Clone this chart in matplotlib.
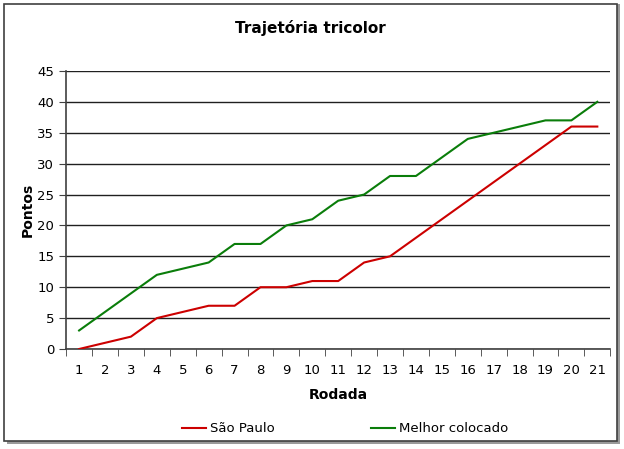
import matplotlib
matplotlib.use("Agg")
import matplotlib.pyplot as plt
from matplotlib.patches import Rectangle

rodadas = list(range(1, 22))
sao_paulo = [0, 1, 2, 5, 6, 7, 7, 10, 10, 11, 11, 14, 15, 18, 21, 24, 27, 30, 33, 36, 36]
melhor = [3, 6, 9, 12, 13, 14, 17, 17, 20, 21, 24, 25, 28, 28, 31, 34, 35, 36, 37, 37, 40]

_RED = "#cc0000"
_GREEN = "#0a7d0a"

plt.rcParams["font.family"] = "DejaVu Sans"

fig = plt.figure(figsize=(6.24, 4.49), dpi=100)
ax = fig.add_axes([0.106, 0.2227, 0.872, 0.6193])
ax.set_zorder(5)
ax.patch.set_alpha(0)

# chart frame with shadow
fig.patches.append(Rectangle((0.011, 0.012), 0.983, 0.98, transform=fig.transFigure,
                             facecolor="#9a9a9a", edgecolor="none", zorder=-2))
fig.patches.append(Rectangle((0.006, 0.018), 0.983, 0.974, transform=fig.transFigure,
                             facecolor="white", edgecolor="#404040", linewidth=1.2, zorder=-1))

ax.plot(rodadas, sao_paulo, color=_RED, linewidth=1.5, label="São Paulo", zorder=3)
ax.plot(rodadas, melhor, color=_GREEN, linewidth=1.5, label="Melhor colocado", zorder=3)

ax.set_xlim(0.5, 21.5)
ax.set_ylim(0, 45)
ax.set_yticks(range(0, 46, 5))
ax.set_xticks(rodadas)
ax.set_xticks([x + 0.5 for x in range(0, 22)], minor=True)
ax.tick_params(axis="x", which="major", length=0, pad=11, labelsize=9.5)
ax.tick_params(axis="x", which="minor", length=5, direction="out", color="#404040")
ax.tick_params(axis="y", length=5, direction="out", labelsize=9.5, color="#404040")
ax.grid(True, axis="y", color="#202020", linewidth=1)
ax.set_axisbelow(True)
for s in ["top", "right"]:
    ax.spines[s].set_visible(False)
for s in ["left", "bottom"]:
    ax.spines[s].set_color("#404040")
    ax.spines[s].set_linewidth(1.2)

fig.text(0.497, 0.938, "Trajetória tricolor", fontsize=11, fontweight="bold",
         ha="center", va="center")
ax.set_xlabel("Rodada", fontsize=10, fontweight="bold", labelpad=8)
ax.set_ylabel("Pontos", fontsize=10, fontweight="bold", labelpad=2)

fig.legend(loc="center", bbox_to_anchor=(0.553, 0.045), ncol=2, frameon=False,
           fontsize=9.5, handlelength=1.8, columnspacing=7.3, handletextpad=0.3)

fig.savefig("out.png", dpi=100, facecolor="white")
